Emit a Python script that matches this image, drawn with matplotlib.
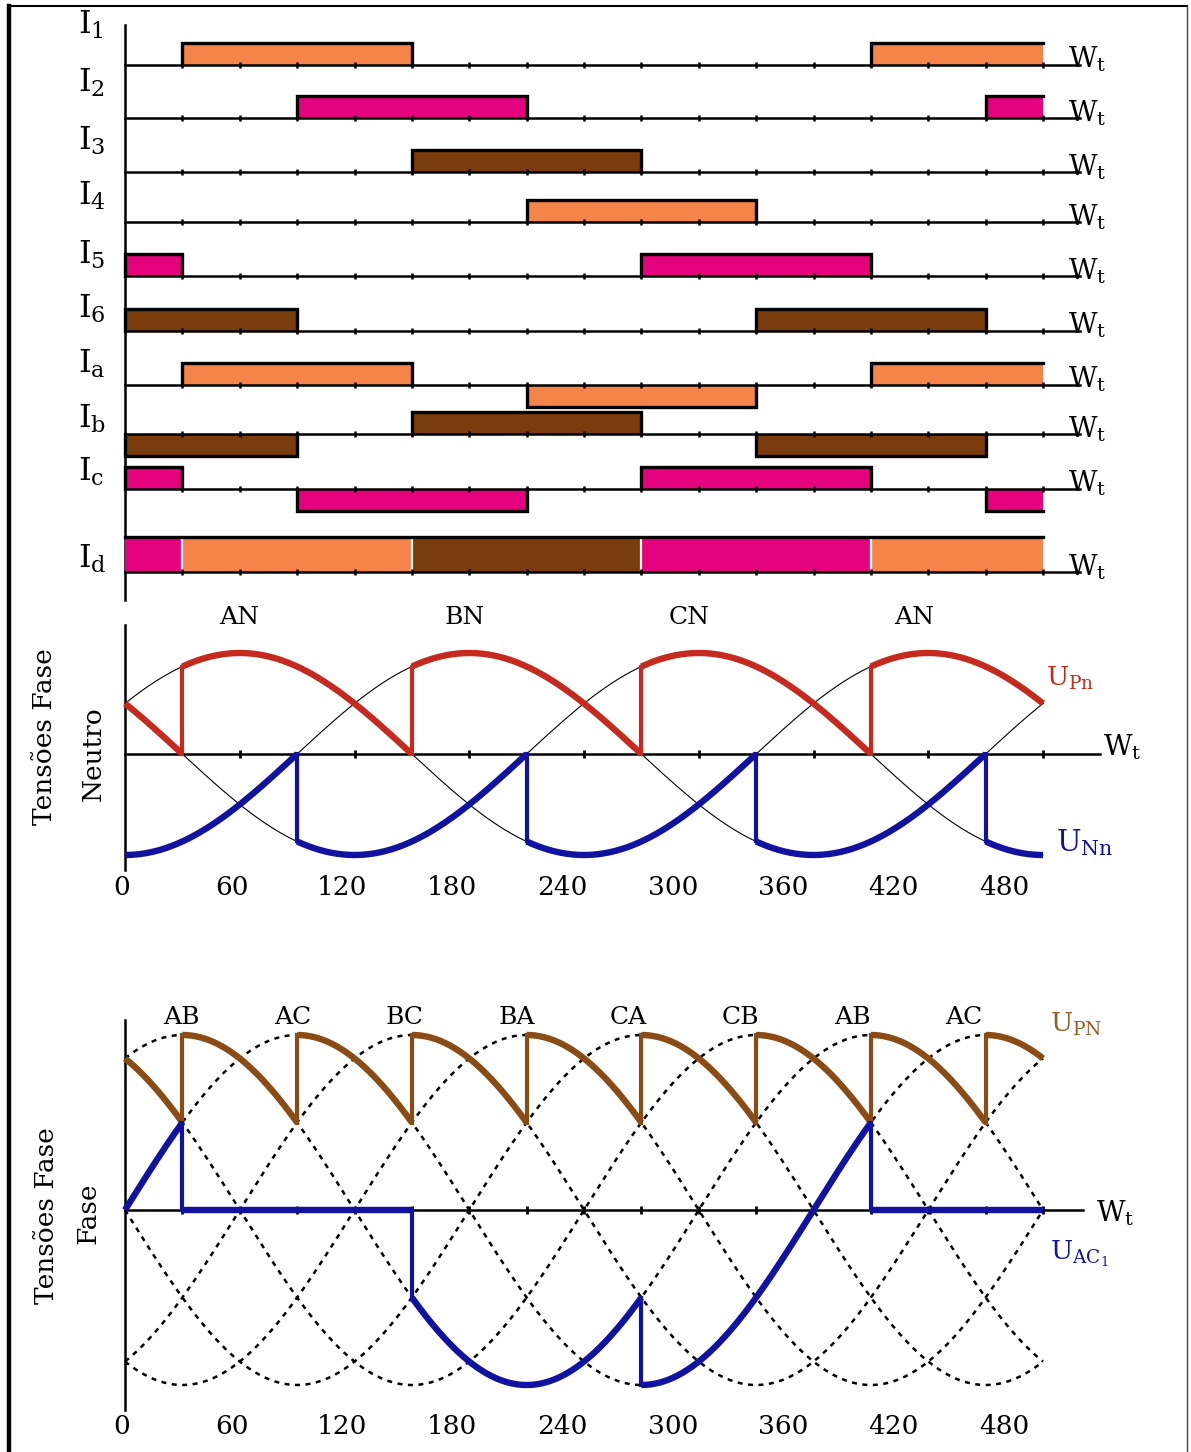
import numpy as np
import matplotlib.pyplot as plt
from matplotlib.patches import Rectangle
from matplotlib.lines import Line2D

plt.rcParams['mathtext.fontset'] = 'dejavuserif'
plt.rcParams['font.family'] = 'DejaVu Serif'

# ---------------- data ----------------
x_end = 480
top_ticks = list(range(30, 481, 30))
deg_ticks = list(range(0, 481, 60))

orange = '#F4844A'
pink = '#E4037C'
brown = '#7A3C0C'

# conduction intervals of the six switches (degrees)
i1_on = [(30, 150), (390, 480)]
i2_on = [(90, 210), (450, 480)]
i3_on = [(150, 270)]
i4_on = [(210, 330)]
i5_on = [(0, 30), (270, 390)]
i6_on = [(0, 90), (330, 450)]
switch_colors = [orange, pink, brown, orange, pink, brown]

# phase currents: (switch for +, switch for -)
ia_pair = (0, 3)
ib_pair = (2, 5)
ic_pair = (4, 1)
# Id: which switch feeds the positive rail, by interval
id_edges = [0, 30, 150, 270, 390, 480]
id_switch = [4, 0, 2, 4, 0]

row_names = ['1', '2', '3', '4', '5', '6', 'a', 'b', 'c', 'd']

# phase-to-neutral voltages: sin(wt + shift)
phase_shift = {'A': 30, 'B': -90, 'C': 150}
upn_edges = [0, 30, 150, 270, 390, 480]
upn_phase = ['C', 'A', 'B', 'C', 'A']
unn_edges = [0, 90, 210, 330, 450, 480]
unn_phase = ['B', 'C', 'A', 'B', 'C']
mid_labels = ['AN', 'BN', 'CN', 'AN']
mid_label_pos = [60, 180, 300, 420]

# line-to-line voltages: cos(wt - peak)
line_peak = {'AB': 30, 'AC': 90, 'BC': 150, 'BA': 210, 'CA': 270, 'CB': 330}
upN_edges = [0, 30, 90, 150, 210, 270, 330, 390, 450, 480]
upN_line = ['CB', 'AB', 'AC', 'BC', 'BA', 'CA', 'CB', 'AB', 'AC']
uac_edges = [0, 30, 150, 270, 390, 480]
uac_line = ['AC', None, 'AB', 'AC', None]
bot_labels = ['AB', 'AC', 'BC', 'BA', 'CA', 'CB', 'AB', 'AC']
bot_label_pos = [30, 90, 150, 210, 270, 330, 390, 450]

# ---------------- layout ----------------
W, H = 1191, 1452
fig = plt.figure(figsize=(W / 100, H / 100), dpi=100)
fig.patch.set_facecolor('white')
X0, PXD = 125, 1.9125
xlim = (-X0 / PXD, (W - X0) / PXD)


def px2deg(px):
    return (px - X0) / PXD


def add_ax(top, bottom):
    ax = fig.add_axes([0, 1 - bottom / H, 1, (bottom - top) / H])
    ax.set_xlim(*xlim)
    ax.axis('off')
    return ax


red = '#C62A1E'
blue = '#1212A0'
ubrown = '#8A4B14'
lbl_font = dict(family='DejaVu Serif', fontsize=18, color='black')
tick_fs = 19
ylab_fs = 19

# ---------- top panel: switch currents ----------
ax0 = add_ax(0, 610)
ax0.set_ylim(610, 0)
base_px = [65, 118, 172, 222, 276, 331, 385, 434, 489, 572]
lab_px = [34, 92, 150, 205, 264, 318, 373, 428, 481, 568]
bar_h = 22
ax0.plot([0, 0], [25, 600], color='k', lw=1.8)

switches = [i1_on, i2_on, i3_on, i4_on, i5_on, i6_on]


def draw_bar(ax, s, e, y, sign, color):
    top = y - sign * bar_h
    ax.add_patch(Rectangle((s, min(y, top)), e - s, bar_h, facecolor=color,
                           edgecolor='none', zorder=2))
    xs, ys = [s, s, e], [y, top, top]
    if e < x_end:
        xs.append(e)
        ys.append(y)
    ax.plot(xs, ys, color='k', lw=2.4, zorder=3, solid_joinstyle='miter')


for r, y in enumerate(base_px):
    ax0.plot([0, px2deg(1080)], [y, y], color='k', lw=1.8, zorder=4)
    ax0.vlines(top_ticks, y - 3, y + 3, color='k', lw=1.8, zorder=4)
    if r < 6:
        for s, e in switches[r]:
            draw_bar(ax0, s, e, y, 1, switch_colors[r])
    elif r < 9:
        pos, neg = [ia_pair, ib_pair, ic_pair][r - 6]
        for s, e in switches[pos]:
            draw_bar(ax0, s, e, y, 1, switch_colors[pos])
        for s, e in switches[neg]:
            draw_bar(ax0, s, e, y, -1, switch_colors[neg])
    else:
        h = 35
        for k in range(len(id_switch)):
            s, e = id_edges[k], id_edges[k + 1]
            ax0.add_patch(Rectangle((s, y - h), e - s, h,
                                    facecolor=switch_colors[id_switch[k]],
                                    edgecolor='none', zorder=2))
        ax0.vlines(id_edges[1:-1], y - h + 2, y - 1, color='white', lw=1.6, zorder=3)
        ax0.plot([0, x_end], [y - h, y - h], color='k', lw=2.4, zorder=3)
    ax0.text(px2deg(78), lab_px[r], r'$\mathrm{I}_{\mathrm{%s}}$' % row_names[r],
             fontsize=23, va='baseline', ha='left')
    ax0.text(px2deg(1068), y + 3, r'$\mathrm{W}_{\mathrm{t}}$', fontsize=20,
             va='baseline', ha='left')

# ---------- middle panel: phase-neutral voltages ----------
ax1 = add_ax(600, 900)
z1, a1 = 754, 101
ax1.set_ylim(-(900 - z1) / a1, (z1 - 600) / a1)
ax1.plot([0, 0], [(z1 - 870) / a1, (z1 - 625) / a1], color='k', lw=1.8)
ax1.plot([0, px2deg(1100)], [0, 0], color='k', lw=1.8)
ax1.vlines(deg_ticks[1:], -0.04, 0.04, color='k', lw=2)

th = np.linspace(0, x_end, 961)
for p, sh in phase_shift.items():
    ax1.plot(th, np.sin(np.radians(th + sh)), color='k', lw=0.8)


def draw_path(ax, edges, names, func, color):
    prev = None
    for k, nm in enumerate(names):
        s, e = edges[k], edges[k + 1]
        t = np.linspace(s, e, 200)
        v = func(nm, t)
        ax.plot(t, v, color=color, lw=4.6, solid_capstyle='butt', zorder=5)
        if prev is not None and abs(prev - v[0]) > 1e-6:
            ax.plot([s, s], [prev, v[0]], color=color, lw=3, zorder=5,
                    solid_capstyle='projecting')
        prev = v[-1]


def phase_v(nm, t):
    return np.sin(np.radians(t + phase_shift[nm]))


draw_path(ax1, upn_edges, upn_phase, phase_v, red)
draw_path(ax1, unn_edges, unn_phase, phase_v, blue)

for lab, p in zip(mid_labels, mid_label_pos):
    ax1.text(p * 0.98 + 1, (z1 - 617) / a1, lab, ha='center', va='center', **lbl_font)
for v in deg_ticks:
    ax1.text(-2 + 0.962 * v, (z1 - 887) / a1, str(v), ha='center', va='center',
             fontsize=tick_fs)
ax1.text(px2deg(45), (z1 - 737) / a1, 'Tensões Fase', rotation=90, ha='center',
         va='center', fontsize=ylab_fs)
ax1.text(px2deg(93), 0.0, 'Neutro', rotation=90, ha='center', va='center',
         fontsize=ylab_fs)
ax1.text(px2deg(1046), (z1 - 686) / a1, r'$\mathrm{U}_{\mathrm{Pn}}$', color=red,
         fontsize=19, va='baseline')
ax1.text(px2deg(1056), (z1 - 851) / a1, r'$\mathrm{U}_{\mathrm{Nn}}$', color=blue,
         fontsize=21, va='baseline')
ax1.text(px2deg(1103), (z1 - 755) / a1, r'$\mathrm{W}_{\mathrm{t}}$', fontsize=20,
         va='baseline')

# ---------- bottom panel: line-line voltages ----------
ax2 = add_ax(960, 1452)
z2, a2 = 1210, 175
ax2.set_ylim(-(1452 - z2) / a2, (z2 - 960) / a2)
ax2.plot([0, 0], [(z2 - 1410) / a2, (z2 - 1020) / a2], color='k', lw=1.8)
ax2.plot([0, px2deg(1083)], [0, 0], color='k', lw=1.8)
ax2.vlines(top_ticks, -0.025, 0.025, color='k', lw=2)

for nm, pk in line_peak.items():
    ax2.plot(th, np.cos(np.radians(th - pk)), color='k', lw=1.8,
             linestyle=(0, (2, 2.2)))


def line_v(nm, t):
    if nm is None:
        return np.zeros_like(t)
    return np.cos(np.radians(t - line_peak[nm]))


draw_path(ax2, upN_edges, upN_line, line_v, ubrown)
draw_path(ax2, uac_edges, uac_line, line_v, blue)

for lab, p in zip(bot_labels, bot_label_pos):
    ax2.text(p * 0.975, (z2 - 1017) / a2, lab, ha='center', va='center', **lbl_font)
for v in deg_ticks:
    ax2.text(-2 + 0.962 * v, (z2 - 1426) / a2, str(v), ha='center', va='center',
             fontsize=tick_fs)
ax2.text(px2deg(47), (z2 - 1216) / a2, 'Tensões Fase', rotation=90, ha='center',
         va='center', fontsize=ylab_fs)
ax2.text(px2deg(88), (z2 - 1213) / a2, 'Fase', rotation=90, ha='center',
         va='center', fontsize=ylab_fs)
ax2.text(px2deg(1050), (z2 - 1032) / a2, r'$\mathrm{U}_{\mathrm{PN}}$', color='#9A5A24',
         fontsize=19, va='baseline')
ax2.text(px2deg(1050), (z2 - 1260) / a2, r'$\mathrm{U}_{\mathrm{AC}_1}$', color=blue,
         fontsize=19, va='baseline')
ax2.text(px2deg(1096), (z2 - 1221) / a2, r'$\mathrm{W}_{\mathrm{t}}$', fontsize=20,
         va='baseline')

# outer frame
fig.add_artist(Line2D([9 / W, 9 / W], [0, 1 - 6 / H], color='k', lw=3.2))
fig.add_artist(Line2D([9 / W, 1187 / W], [1 - 6 / H, 1 - 6 / H], color='k', lw=1.5))
fig.add_artist(Line2D([1187 / W, 1187 / W], [0, 1 - 6 / H], color='#444444', lw=1.0))

fig.savefig('out.png', dpi=100, facecolor='white')
